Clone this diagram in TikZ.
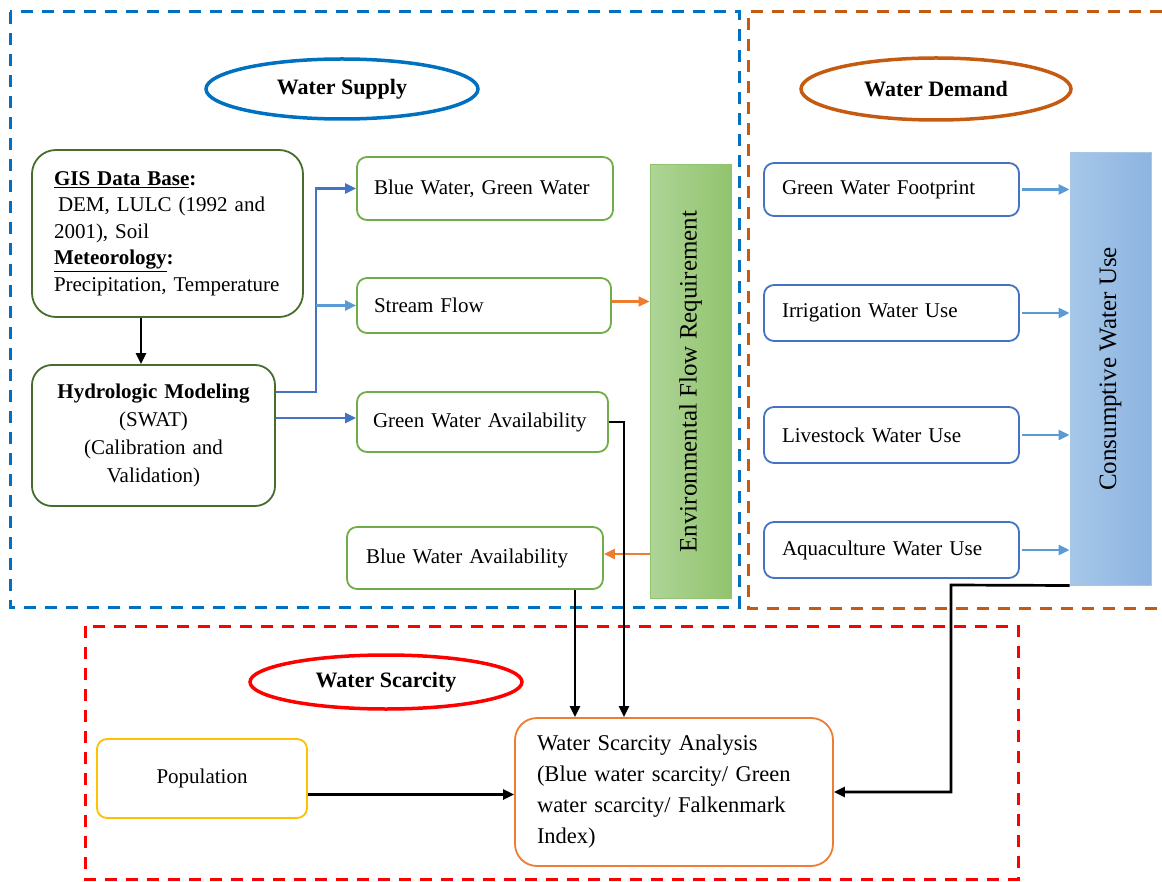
\documentclass[tikz,border=0pt]{standalone}
\usepackage{fontspec}
\setmainfont{Liberation Serif}
\usetikzlibrary{arrows.meta,shapes.geometric}

\definecolor{supplyblue}{RGB}{0,112,192}
\definecolor{demandorange}{RGB}{197,90,17}
\definecolor{darkgreen}{RGB}{72,108,46}
\definecolor{lightgreen}{RGB}{112,173,71}
\definecolor{boxblue}{RGB}{68,114,196}
\definecolor{arrowblue}{RGB}{91,155,213}
\definecolor{flowgreenA}{RGB}{174,212,150}
\definecolor{flowgreenB}{RGB}{145,196,110}
\definecolor{useblueA}{RGB}{166,199,232}
\definecolor{useblueB}{RGB}{141,180,225}
\definecolor{arroworange}{RGB}{237,125,49}
\definecolor{popyellow}{RGB}{255,192,0}

\begin{document}
\begin{tikzpicture}[x=1pt,y=-1pt,
  every node/.style={font=\fontsize{21}{26}\selectfont},
  frame/.style={line width=3pt, dash pattern=on 12pt off 9pt},
  title/.style={ellipse, draw, line width=3.5pt, inner sep=0pt, minimum width=272pt, minimum height=60pt, font=\fontsize{22}{26}\selectfont\bfseries},
  box/.style={draw, rounded corners=10pt, line width=1.8pt, inner sep=0pt},
  dgbox/.style={box, draw=darkgreen, rounded corners=24pt},
  lgbox/.style={box, draw=lightgreen, align=left},
  dbox/.style={box, draw=boxblue, minimum width=255pt, minimum height=55pt, inner xsep=18pt, text width=219pt, align=left},
  bar/.style={line width=1pt, inner sep=0pt, minimum width=81pt, font=\fontsize{25}{30}\selectfont},
  arr/.style={-{Triangle[length=11pt,width=10pt]}, line width=2.7pt}]
  \useasboundingbox (0,0) rectangle (1162,882);
  \draw[frame, supplyblue] (10,12) rectangle (739,607);
  \draw[frame, demandorange] (1162,12) -- (748,12) -- (748,608) -- (1162,608);
  \draw[frame, red] (85,626) rectangle (1018,879);

  \node[title, draw=supplyblue] (supply) at (342,89) {Water Supply};
  \node[title, draw=demandorange, minimum width=270pt, minimum height=62pt] (demand) at (936,89) {Water Demand};
  \node[title, draw=red, minimum height=54pt] (scarcity) at (386,682) {Water Scarcity};

  \node[dgbox, minimum width=271pt, minimum height=167pt, inner xsep=22pt, text width=227pt, align=left, font=\fontsize{21}{26.5}\selectfont] (gis) at (167.5,233.5) {\textbf{\underline{GIS Data Base}:}\\\hspace{4pt}DEM, LULC (1992 and\\2001), Soil\\\textbf{\underline{Meteorology}:}\\Precipitation, Temperature};
  \node[dgbox, rounded corners=20pt, minimum width=243pt, minimum height=141pt, inner xsep=11pt, text width=221pt, align=center, font=\fontsize{21}{28}\selectfont] (hydro) at (153.5,435.5) {\textbf{Hydrologic Modeling}\\(SWAT)\\(Calibration and\\Validation)};

  \node[lgbox, minimum height=63pt, inner xsep=17pt, text width=222pt] (bluegreen) at (485,188.5) {Blue Water, Green Water};
  \node[lgbox, minimum height=55pt, inner xsep=17pt, text width=220pt] (stream) at (484,305.5) {Stream Flow};
  \node[lgbox, minimum height=60pt, inner xsep=16pt, text width=219pt] (greenavail) at (482.5,422) {Green Water Availability};
  \node[lgbox, minimum height=62pt, inner xsep=19pt, text width=218pt] (blueavail) at (475,558) {Blue Water Availability};

  \node[bar, draw=flowgreenB, left color=flowgreenA, right color=flowgreenB, minimum height=433pt] (envflow) at (690.5,381.5) {\rotatebox{90}{Environmental Flow Requirement}};

  \node[dbox, minimum height=53pt] (footprint) at (891.5,189.5) {Green Water Footprint};
  \node[dbox, minimum height=56pt] (irrigation) at (891.5,313) {Irrigation Water Use};
  \node[dbox, minimum height=56pt] (livestock) at (891.5,435) {Livestock Water Use};
  \node[dbox, minimum height=56pt] (aquaculture) at (891.5,550) {Aquaculture Water Use};

  \node[bar, draw=useblueA, left color=useblueA, right color=useblueB, minimum height=432pt] (consumptive) at (1110.5,369) {\rotatebox{90}{Consumptive Water Use}};

  \node[box, draw=popyellow, minimum width=210pt, minimum height=79pt] (population) at (202,778.5) {Population};
  \node[box, draw=arroworange, rounded corners=22pt, minimum height=148pt, inner xsep=22pt, text width=274pt, align=left, font=\fontsize{22.5}{31}\selectfont] (analysis) at (674,792) {Water Scarcity Analysis\\(Blue water scarcity/ Green\\water scarcity/ Falkenmark\\Index)};

  \coordinate (split) at (316,392);
  \coordinate (bend) at (624,422);
  \coordinate (drop) at (951,585);
  \draw[arr] ([xshift=-26.5pt]gis.south) -- ([xshift=-26.5pt]gis.south |- hydro.north);
  \draw[arr, boxblue] (hydro.east |- split) -- (split) |- (bluegreen.west);
  \draw[arr, arrowblue] (split |- stream.west) -- (stream.west);
  \draw[arr, boxblue] ([yshift=4pt]hydro.east |- greenavail.west) -- ([yshift=4pt]greenavail.west);
  \draw[arr, arroworange, line width=2.2pt] ([yshift=4pt]stream.east) -- ([yshift=4pt]stream.east -| envflow.west);
  \draw[arr, arroworange, line width=2.2pt] ([yshift=4pt]envflow.west |- blueavail.east) -- ([yshift=4pt]blueavail.east);
  \draw[arr] (greenavail.east) -- (bend) -- (bend |- analysis.north);
  \draw[arr] ([xshift=100pt]blueavail.south) -- ([xshift=100pt]blueavail.south |- analysis.north);
  \foreach \n in {footprint,irrigation,livestock,aquaculture}
    \draw[arr, arrowblue] ([xshift=2pt]\n.east) -- (\n.east -| consumptive.west);
  \draw[arr] (consumptive.south west) -- (drop) |- (analysis.east);
  \draw[arr, line width=3.4pt] ([yshift=-16pt]population.east) -- ([yshift=-16pt]population.east -| analysis.west);
\end{tikzpicture}
\end{document}
